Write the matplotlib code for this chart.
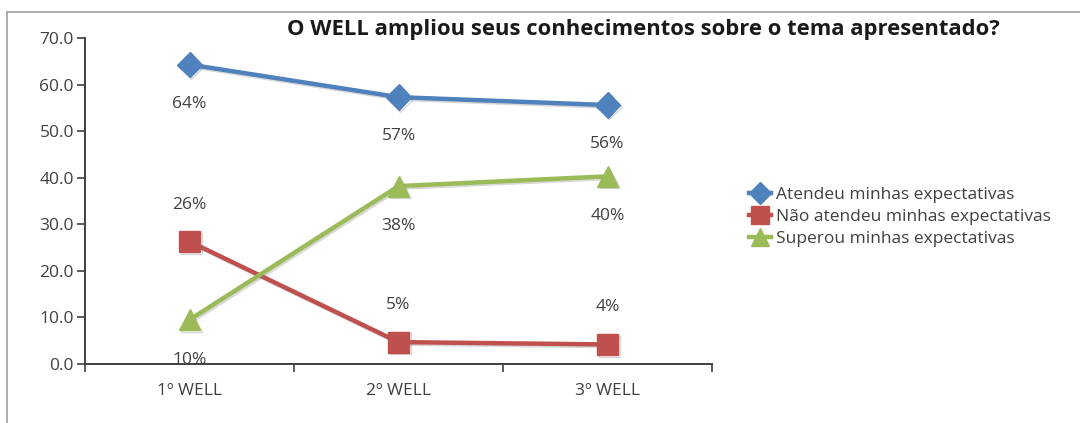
import matplotlib
matplotlib.use("Agg")
import matplotlib.pyplot as plt
from matplotlib.lines import Line2D
import matplotlib.patheffects as pe

plt.rcParams['font.family'] = ['Open Sans', 'DejaVu Sans']

categories = ["1º WELL", "2º WELL", "3º WELL"]
series_names = ["Atendeu minhas expectativas",
                "Não atendeu minhas expectativas",
                "Superou minhas expectativas"]
atendeu = [64.3, 57.3, 55.6]
nao_atendeu = [26.3, 4.7, 4.2]
superou = [9.5, 38.2, 40.3]
labels_atendeu = ["64%", "57%", "56%"]
labels_nao = ["26%", "5%", "4%"]
labels_superou = ["10%", "38%", "40%"]
yticks = [0, 10, 20, 30, 40, 50, 60, 70]

colors = ["#4F81BD", "#C0504D", "#9BBB59"]
markers = ["D", "s", "^"]
msizes = [13, 15, 15]

fig = plt.figure(figsize=(10.8, 4.23), dpi=100)
ax = fig.add_axes([85/1080, (423-364)/423, 627/1080, 326/423])

x = [1, 2, 3]
data = [atendeu, nao_atendeu, superou]
lbls = [labels_atendeu, labels_nao, labels_superou]
offsets = [-39, 37, -40]
shadow = [pe.SimpleLineShadow(offset=(1.2, -1.2), shadow_color='gray', alpha=0.3), pe.Normal()]
fs = 12.5
for vals, name, c, m, ms, lb, off in zip(data, series_names, colors, markers, msizes, lbls, offsets):
    ax.plot(x, vals, color=c, lw=3.2, marker=m, markersize=ms, markeredgecolor=c,
            label=name, path_effects=shadow, zorder=3, solid_capstyle='round')
    for xi, v, t in zip(x, vals, lb):
        ax.annotate(t, (xi, v), xytext=(0, off), textcoords='offset pixels',
                    ha='center', va='center', fontsize=fs, color='#404040', zorder=4)

ax.set_xlim(0.5, 3.5)
ax.set_ylim(0, 70)
ax.set_yticks(yticks)
ax.set_yticklabels([f"{v:.1f}" for v in yticks])
ax.set_xticks(x)
ax.set_xticklabels(categories)
ax.set_xticks([0.5, 1.5, 2.5, 3.5], minor=True)
ax.tick_params(axis='x', which='major', length=0, pad=14, labelsize=fs, labelcolor='#404040')
ax.tick_params(axis='x', which='minor', length=6, width=1.2, color='#404040', direction='out')
ax.tick_params(axis='y', length=6, width=1.2, color='#404040', labelsize=fs, labelcolor='#404040', pad=2)
for s in ['top', 'right']:
    ax.spines[s].set_visible(False)
for s in ['left', 'bottom']:
    ax.spines[s].set_color('#404040')
    ax.spines[s].set_linewidth(1.4)
ax.spines['bottom'].set_bounds(0.5, 3.5)

fig.text(287/1080, 1 - 30/423, "O WELL ampliou seus conhecimentos sobre o tema apresentado?",
         fontsize=15.8, fontweight='bold', ha='left', va='center', color='#1a1a1a')

handles = [Line2D([0], [0], color=c, lw=3.2, marker=m, markersize=ms*0.85, markeredgecolor=c)
           for c, m, ms in zip(colors, markers, msizes)]
fig.legend(handles, series_names, loc='center left', bbox_to_anchor=(733/1080, 1 - 217/423),
           frameon=False, fontsize=fs, handlelength=1.3, handletextpad=0.25,
           labelspacing=0.35, labelcolor='#404040')

# outer frame (top and left edges)
fig.add_artist(Line2D([7/1080, 7/1080], [0, 1 - 12/423], transform=fig.transFigure,
                      color='#a0a0a0', lw=1.2))
fig.add_artist(Line2D([7/1080, 1], [1 - 12/423, 1 - 12/423], transform=fig.transFigure,
                      color='#a0a0a0', lw=1.2))

fig.savefig("out.png", dpi=100)
